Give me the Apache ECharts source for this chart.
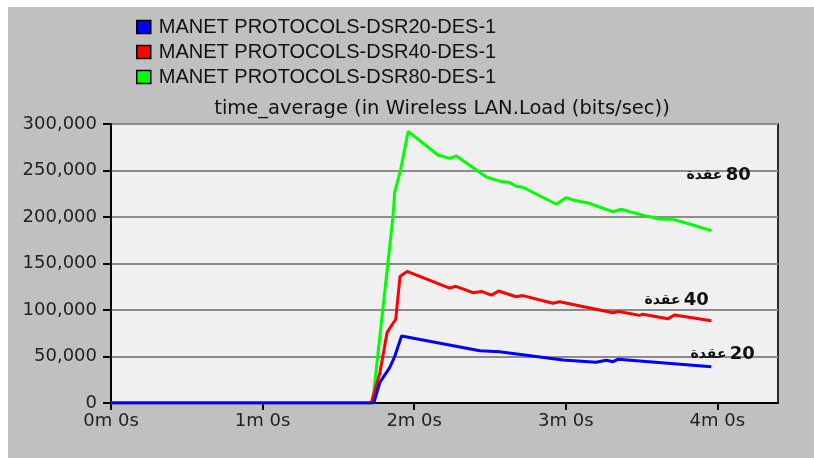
<!DOCTYPE html>
<html>
<head>
<meta charset="utf-8">
<script src="https://cdn.jsdelivr.net/npm/echarts@6/dist/echarts.min.js"></script>
<style>
  html, body { margin: 0; padding: 0; background: #ffffff; }
  #chart { position: absolute; left: 8px; top: 7px; width: 806px; height: 451px; }
</style>
</head>
<body>
<div id="chart"></div>
<script>
// Wireless LAN load, time average, for DSR with 20 / 40 / 80 nodes (time in seconds)
const seriesNames = [
  'MANET PROTOCOLS-DSR20-DES-1',
  'MANET PROTOCOLS-DSR40-DES-1',
  'MANET PROTOCOLS-DSR80-DES-1'
];

const dsr20Times = [0, 104, 106.4, 110.3, 112.3, 115, 146, 153.8, 178.9, 192, 196, 198.7, 200.6, 237.6];
const dsr20Loads = [0, 0, 22000, 38000, 50000, 72000, 56200, 55000, 46200, 43800, 46000, 44400, 47000, 39000];

const dsr40Times = [0, 103, 106.4, 109.3, 111.7, 112.7, 114.4, 117.2, 134, 136.5, 143.3, 146.6, 150.6, 153.4,
  160.4, 163, 174.9, 177.6, 198.7, 201, 209.2, 210.5, 220.4, 223, 237.6];
const dsr40Loads = [0, 0, 32000, 76000, 86000, 90000, 136000, 141500, 123500, 125500, 118600, 120000, 116000, 120400,
  114300, 115500, 107200, 108800, 97100, 98400, 94200, 95500, 90500, 94600, 88400];

const dsr80Times = [0, 103.5, 104.4, 111.6, 112.3, 114.6, 117.6, 129.4, 134, 136.7, 144.6, 148.6, 153.8, 157.8,
  160.4, 163, 176.3, 180, 184.2, 189.4, 194.7, 198.7, 202, 205.3, 210.5, 217.1, 222.4, 229, 237.6];
const dsr80Loads = [0, 0, 21500, 200000, 227000, 250500, 292000, 266700, 263000, 265600, 250500, 243000, 238500, 237000,
  233000, 232000, 213700, 220800, 217500, 214700, 209400, 205700, 208300, 205700, 202000, 197900, 197500, 192500, 185300];

// node-count annotations: [time, load, count]
const nodeWord = 'عقدة';
const nodeNotes = [
  [242.1, 52700, '20'],
  [223.9, 110800, '40'],
  [240.5, 245200, '80']
];

const xTickValues = [0, 60, 120, 180, 240];
const yTickValues = [0, 50000, 100000, 150000, 200000, 250000, 300000];

const lineColors = ['#0000ff', '#ff0000', '#00ff00'];

function pairs(ts, vs) { return ts.map((t, i) => [t, vs[i]]); }
function minuteLabel(v) { return Math.round(v / 60) + 'm 0s'; }
function thousands(v) { return String(v).replace(/\B(?=(\d{3})+(?!\d))/g, ','); }

const allData = [pairs(dsr20Times, dsr20Loads), pairs(dsr40Times, dsr40Loads), pairs(dsr80Times, dsr80Loads)];

const chart = echarts.init(document.getElementById('chart'), null, { renderer: 'canvas' });

chart.setOption({
  backgroundColor: '#c0c0c0',
  animation: false,
  title: {
    text: 'time_average (in Wireless LAN.Load (bits/sec))',
    left: 434,
    top: 92,
    padding: 0,
    textAlign: 'center',
    textStyle: { fontFamily: 'DejaVu Sans', fontSize: 19.5, fontWeight: 'normal', color: '#111' }
  },
  legend: {
    orient: 'vertical',
    left: 128,
    top: 10,
    padding: 0,
    itemWidth: 14,
    itemHeight: 13,
    itemGap: 5,
    icon: 'rect',
    selectedMode: false,
    data: seriesNames,
    textStyle: { fontFamily: 'Liberation Sans', fontSize: 20, color: '#111', lineHeight: 19, padding: [0, 0, 0, 3] },
    itemStyle: { borderColor: '#000', borderWidth: 1.5 }
  },
  grid: {
    left: 103, right: 36, top: 117, bottom: 55,
    show: true,
    backgroundColor: '#f0f0f0',
    borderColor: '#2a2a2a',
    borderWidth: 2
  },
  xAxis: {
    type: 'value',
    min: 0,
    max: 264,
    interval: 60,
    axisLine: { show: true, lineStyle: { color: '#000', width: 2 } },
    axisTick: { show: true, length: 7, lineStyle: { color: '#000', width: 2 }, customValues: xTickValues },
    axisLabel: {
      customValues: xTickValues,
      formatter: minuteLabel,
      margin: 9,
      fontFamily: 'DejaVu Sans', fontSize: 18, color: '#222'
    },
    splitLine: { show: false }
  },
  yAxis: {
    type: 'value',
    min: 0,
    max: 300000,
    interval: 50000,
    axisLine: { show: true, lineStyle: { color: '#000', width: 2 } },
    axisTick: { show: true, length: 8, lineStyle: { color: '#000', width: 2 }, customValues: yTickValues },
    axisLabel: {
      customValues: yTickValues,
      formatter: thousands,
      margin: 14,
      fontFamily: 'DejaVu Sans', fontSize: 18, color: '#222'
    },
    splitLine: { show: true, lineStyle: { color: '#8c8c8c', width: 2 } }
  },
  series: seriesNames.map((name, i) => ({
    name: name,
    type: 'line',
    data: allData[i],
    z: 4 - i,
    symbol: 'none',
    color: lineColors[i],
    lineStyle: { color: lineColors[i], width: 3 },
    markPoint: {
      symbol: 'circle',
      symbolSize: 0,
      silent: true,
      data: [{ coord: [nodeNotes[i][0], nodeNotes[i][1]], value: nodeNotes[i][2] }],
      label: {
        show: true,
        position: 'inside',
        formatter: p => '{ar|' + nodeWord + '} {num|' + p.value + '}',
        rich: {
          ar: { fontFamily: 'DejaVu Sans', fontWeight: 'bold', fontSize: 14, color: '#111' },
          num: { fontFamily: 'DejaVu Sans', fontWeight: 'bold', fontSize: 18, color: '#111' }
        }
      }
    }
  }))
});
</script>
</body>
</html>
